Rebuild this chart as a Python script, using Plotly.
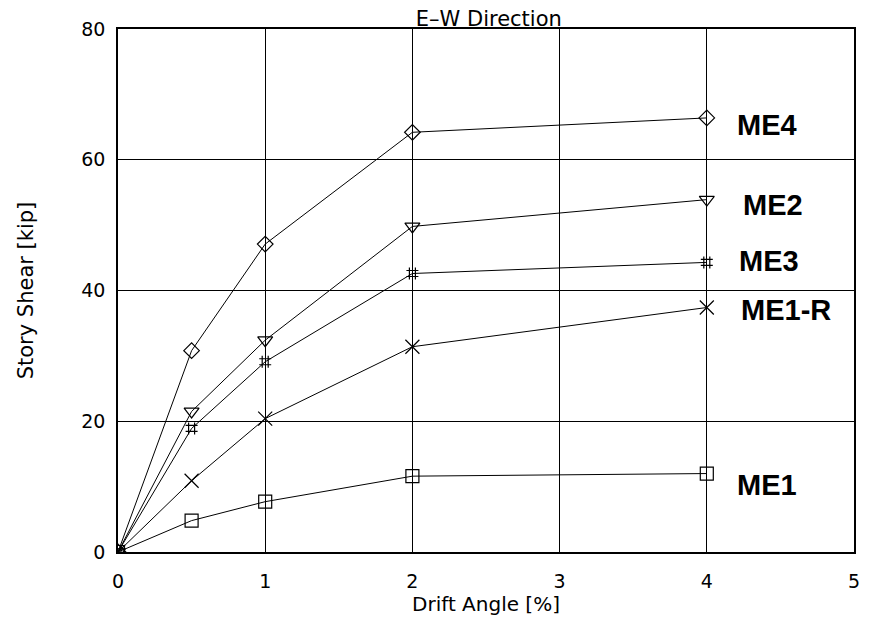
import plotly.graph_objects as go

drift = [0, 0.5, 1, 2, 4]
me4 = [0, 30.8, 47.1, 64.2, 66.4]
me2 = [0, 21.5, 32.4, 49.8, 53.9]
me3 = [0, 18.9, 29.1, 42.6, 44.3]
me1r = [0, 10.9, 20.4, 31.4, 37.4]
me1 = [0, 4.8, 7.7, 11.6, 12.0]

series_names = ["ME4", "ME2", "ME3", "ME1-R", "ME1"]
label_x = [4.41, 4.45, 4.42, 4.54, 4.41]
label_y = [65.3, 53.1, 44.5, 37.0, 10.3]

x_ticks = [0, 1, 2, 3, 4, 5]
y_ticks = [0, 20, 40, 60, 80]

symbols = ["diamond-open", "triangle-down-open", "hash-open", "x-thin-open", "square-open"]
sizes = [12, 13, 12, 14, 13]

fig = go.Figure()
for name, vals, sym, sz in zip(series_names, [me4, me2, me3, me1r, me1], symbols, sizes):
    fig.add_trace(go.Scatter(
        x=drift, y=vals, mode="lines+markers", name=name,
        line=dict(color="black", width=1),
        marker=dict(symbol=sym, size=sz, color="black", line=dict(color="black", width=1.2)),
        showlegend=False,
    ))

for name, lx, ly in zip(series_names, label_x, label_y):
    fig.add_annotation(x=lx, y=ly, text="<b>" + name + "</b>", showarrow=False,
                       xanchor="center", yanchor="middle",
                       font=dict(family="Liberation Sans", size=29, color="black"))

fig.update_layout(
    width=869, height=624,
    margin=dict(l=118, r=9, t=29, b=72),
    paper_bgcolor="white", plot_bgcolor="white",
    font=dict(family="DejaVu Sans", color="black"),
    title=dict(text="E\u2013W Direction", x=0.5625, xanchor="center", y=0.97, yanchor="middle",
               font=dict(family="DejaVu Sans", size=21, color="black")),
)
fig.update_xaxes(
    range=[0, 5], tickvals=x_ticks, ticktext=[str(t) for t in x_ticks],
    showgrid=True, gridcolor="black", gridwidth=1.3,
    showline=True, linecolor="black", linewidth=1.5, mirror=True,
    ticks="outside", ticklen=11, tickcolor="rgba(0,0,0,0)",
    tickfont=dict(family="DejaVu Sans", size=19), zeroline=False,
    title=dict(text="Drift Angle [%]", font=dict(family="DejaVu Sans", size=20), standoff=0),
)
fig.update_yaxes(
    range=[0, 80], tickvals=y_ticks, ticktext=[str(t) for t in y_ticks],
    showgrid=True, gridcolor="black", gridwidth=1.3,
    showline=True, linecolor="black", linewidth=1.5, mirror=True,
    ticks="outside", ticklen=7, tickcolor="rgba(0,0,0,0)",
    tickfont=dict(family="DejaVu Sans", size=19), zeroline=False,
    title=dict(text="Story Shear [kip]", font=dict(family="DejaVu Sans", size=21), standoff=42),
)

fig.write_html("out.html")
